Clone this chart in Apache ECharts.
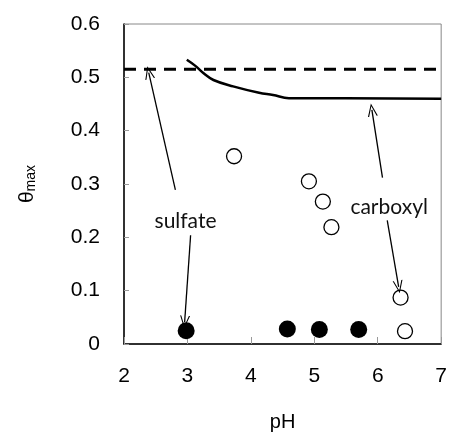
<!DOCTYPE html>
<html>
<head>
<meta charset="utf-8">
<script src="https://cdn.jsdelivr.net/npm/echarts@6/dist/echarts.min.js"></script>
<style>html,body{margin:0;padding:0;background:#fff}#c{width:450px;height:437px}</style>
</head>
<body>
<div id="c"></div>
<script>
// pH values and theta_max
const openPH = [3.735, 4.915, 5.135, 5.27, 6.36, 6.43];
const openTheta = [0.352, 0.305, 0.267, 0.219, 0.087, 0.024];
const filledPH = [2.98, 4.575, 5.08, 5.70];
const filledTheta = [0.025, 0.028, 0.027, 0.027];
const curvePH = [2.99, 3.12, 3.25, 3.41, 3.72, 4.13, 4.35, 4.60, 4.76, 7.0];
const curveTheta = [0.533, 0.522, 0.508, 0.495, 0.483, 0.471, 0.467, 0.461, 0.461, 0.460];
const dashedPH = [2, 7];
const dashedTheta = [0.515, 0.515];
const labelTexts = ['sulfate', 'carboxyl'];
const labelPH = [2.97, 6.18];
const labelTheta = [0.230, 0.256];
const arrowFromPH = [2.81, 3.05, 6.075, 6.15];
const arrowFromTheta = [0.289, 0.204, 0.312, 0.232];
const arrowToPH = [2.39, 2.956, 5.908, 6.33];
const arrowToTheta = [0.509, 0.041, 0.439, 0.107];
const xTicks = [2, 3, 4, 5, 6, 7];
const yTicks = [0, 0.1, 0.2, 0.3, 0.4, 0.5, 0.6];

const zip = (a, b) => a.map((v, i) => [v, b[i]]);
const chevron = 'path://M0,12 L5,0 L10,12 L8.8,12 L5,2.6 L1.2,12 Z';

const chart = echarts.init(document.getElementById('c'), null, {renderer: 'canvas'});
const font = 'Liberation Sans, Arial, sans-serif';
chart.setOption({
  animation: false,
  grid: {left: 124, right: 7, top: 24, bottom: 90, show: true, borderColor: '#888', borderWidth: 1},
  xAxis: {
    type: 'value', min: xTicks[0], max: xTicks[xTicks.length - 1], interval: 1,
    name: 'pH', nameLocation: 'middle', nameGap: 68,
    nameTextStyle: {fontFamily: font, fontSize: 20, color: '#000'},
    axisLine: {show: true, onZero: false, lineStyle: {color: '#000', width: 1.5}},
    axisTick: {show: true, inside: true, length: 7, lineStyle: {color: '#999'}},
    axisLabel: {margin: 22, fontFamily: font, fontSize: 21, color: '#000'},
    splitLine: {show: false}
  },
  yAxis: {
    type: 'value', min: yTicks[0], max: yTicks[yTicks.length - 1], interval: 0.1,
    name: '{t|θ}{s|max}', nameLocation: 'middle', nameGap: 86, nameRotate: 90,
    nameTextStyle: {
      rich: {
        t: {fontFamily: font, fontSize: 21, color: '#000', verticalAlign: 'bottom', lineHeight: 24},
        s: {fontFamily: font, fontSize: 14, color: '#000', verticalAlign: 'bottom', lineHeight: 14}
      }
    },
    axisLine: {show: true, lineStyle: {color: '#000', width: 1.5}},
    axisTick: {show: true, inside: true, length: 5, lineStyle: {color: '#999'}},
    axisLabel: {margin: 24, fontFamily: font, fontSize: 21, color: '#000',
      formatter: v => (Math.round(v * 10) / 10).toString()},
    splitLine: {show: false}
  },
  series: [
    {
      type: 'line', data: zip(dashedPH, dashedTheta), symbol: 'none',
      lineStyle: {color: '#000', width: 3, type: [12, 8]}, z: 3
    },
    {
      type: 'line', data: zip(curvePH, curveTheta), symbol: 'none', smooth: 0.4,
      lineStyle: {color: '#000', width: 2.5}, z: 3
    },
    {
      type: 'scatter', data: zip(openPH, openTheta), symbol: 'circle', symbolSize: 15,
      itemStyle: {color: '#fff', borderColor: '#000', borderWidth: 1.3, opacity: 1}, z: 4
    },
    {
      type: 'scatter', data: zip(filledPH, filledTheta), symbol: 'circle', symbolSize: 17,
      itemStyle: {color: '#000', opacity: 1}, z: 4
    },
    {
      type: 'line', data: [], silent: true,
      markLine: {
        silent: true, animation: false,
        symbol: ['none', chevron], symbolSize: [10, 13],
        lineStyle: {color: '#000', width: 1.3, type: 'solid'},
        label: {show: false},
        data: arrowFromPH.map((p, i) => [
          {coord: [p, arrowFromTheta[i]]},
          {coord: [arrowToPH[i], arrowToTheta[i]]}
        ])
      },
      markPoint: {
        silent: true, animation: false, symbol: 'circle', symbolSize: 0,
        label: {show: true, position: 'inside', fontFamily: 'Lato, Open Sans, sans-serif', fontSize: 21, color: '#111',
          formatter: p => p.name},
        data: labelTexts.map((t, i) => ({name: t, coord: [labelPH[i], labelTheta[i]]}))
      }
    }
  ]
});
</script>
</body>
</html>
